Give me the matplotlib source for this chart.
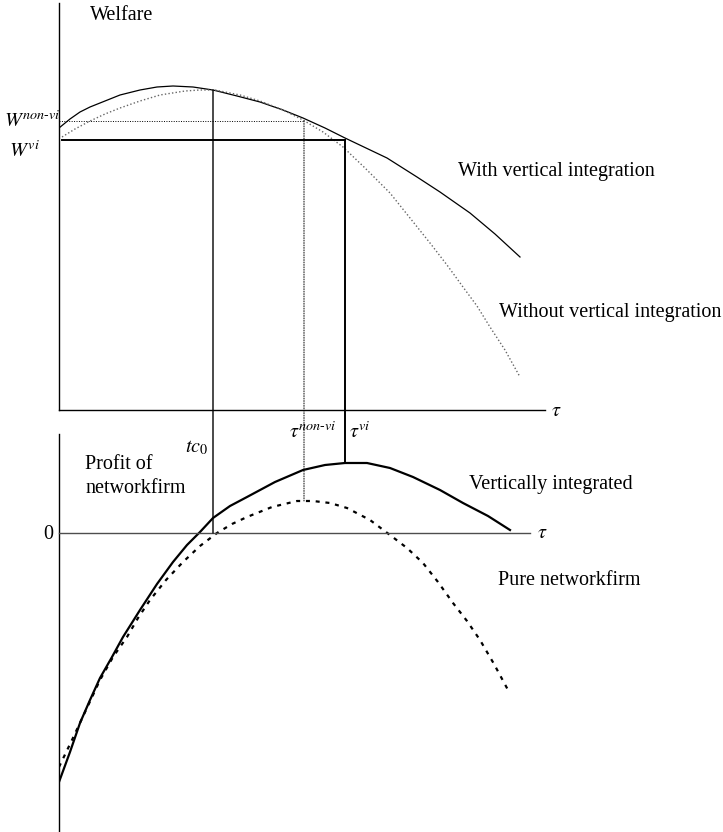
import numpy as np
import matplotlib
matplotlib.use("Agg")
import matplotlib.pyplot as plt
from matplotlib.patches import ConnectionPatch

plt.rcParams['font.family'] = ['Liberation Serif', 'DejaVu Serif']
plt.rcParams['mathtext.fontset'] = 'stix'

# ---------------- data (schematic) ----------------
# Welfare panel: tau vs welfare
tau_w_vi = [0, 11, 21, 31, 41, 61, 81, 98, 114, 134, 154, 178, 201, 224, 244,
            266, 286, 307, 328, 358, 381, 411, 436, 461]
welfare_vi = [282, 291, 298, 303, 307, 315, 320, 323, 324, 323, 320, 314, 308,
              300, 292, 282, 272, 262, 252, 233, 218, 197, 176, 153]
tau_w_nonvi = [3, 16, 31, 46, 61, 81, 101, 126, 141, 156, 181, 201, 224, 244,
               264, 284, 306, 331, 351, 371, 388, 404, 418, 431, 446, 461]
welfare_nonvi = [273, 281, 289, 296, 302, 309, 315, 319, 320, 320, 315, 309,
                 300, 290, 278, 263, 242, 217, 192, 167, 145, 123, 104, 83, 60, 33]

# Profit panel: tau vs profit of network firm
tau_p_vi = [0, 11, 21, 31, 41, 53, 64, 81, 98, 114, 128, 141, 154, 171, 188,
            216, 244, 266, 286, 308, 331, 354, 381, 404, 429, 451]
profit_vi = [-249, -219, -190, -167, -145, -124, -104, -77, -51, -29, -12, 1,
             15, 27, 36, 51, 63, 68, 70, 70, 65, 56, 43, 30, 17, 3]
tau_p_pure = [0, 13, 27, 41, 54, 68, 79, 91, 107, 124, 141, 158, 173, 188, 213,
              238, 254, 271, 288, 311, 331, 348, 364, 379, 394, 408, 421, 435, 449]
profit_pure = [-234, -207, -177, -147, -124, -104, -85, -67, -47, -29, -13, 0,
               9, 16, 26, 32, 32, 30, 25, 13, -2, -15, -30, -49, -70, -88,
               -107, -131, -157]

# key levels
tc0 = 154
tau_vi = 286
tau_nonvi = 245
W_vi = 270
W_nonvi = 289

W, H = 723, 832
fig = plt.figure(figsize=(W / 100, H / 100), dpi=100)

# ---------------- top panel ----------------
ax1 = fig.add_axes([59 / W, (H - 410) / H, 664 / W, 410 / H])
ax1.set_xlim(0, 664)
ax1.set_ylim(0, 410)
for s in ['top', 'right']:
    ax1.spines[s].set_visible(False)
ax1.spines['left'].set_bounds(0, 407)
ax1.spines['bottom'].set_bounds(0, 486)
for s in ['left', 'bottom']:
    ax1.spines[s].set_linewidth(1.0)
ax1.set_xticks([])
ax1.set_yticks([])
ax1.patch.set_alpha(0)

ax1.plot(tau_w_vi, welfare_vi, color='black', lw=0.9, solid_joinstyle='round')
ax1.plot(tau_w_nonvi, welfare_nonvi, color='0.4', lw=1.0, linestyle=(0, (1, 1.6)))
ax1.plot([3, tau_vi], [W_vi, W_vi], color='black', lw=1.4)
ax1.plot([0, tau_nonvi], [W_nonvi, W_nonvi], color='black', lw=0.7, linestyle=(0, (1, 1.5)))

# ---------------- bottom panel ----------------
ax2 = fig.add_axes([59 / W, 0, 664 / W, 399 / H])
ax2.set_xlim(0, 664)
ax2.set_ylim(-299, 100)
for s in ['top', 'right']:
    ax2.spines[s].set_visible(False)
ax2.spines['left'].set_bounds(-299, 99)
ax2.spines['bottom'].set_position(('data', 0))
ax2.spines['bottom'].set_bounds(0, 471)
ax2.spines['bottom'].set_color('0.3')
for s in ['left', 'bottom']:
    ax2.spines[s].set_linewidth(1.0)
ax2.set_xticks([])
ax2.set_yticks([])
ax2.patch.set_alpha(0)

ax2.plot(tau_p_vi, profit_vi, color='black', lw=1.6, solid_joinstyle='round')
ax2.plot(tau_p_pure, profit_pure, color='black', lw=1.6, linestyle=(0, (1.8, 2.6)))

# ---------------- vertical connectors ----------------
w_tc0 = np.interp(tc0, tau_w_vi, welfare_vi)
p_vi_peak = np.interp(tau_vi, tau_p_vi, profit_vi)
p_pure_peak = np.interp(tau_nonvi, tau_p_pure, profit_pure)

for (x, ytop, ybot, lw, ls) in [
    (tc0, w_tc0, 0, 1.0, '-'),
    (tau_vi, W_vi, p_vi_peak, 1.4, '-'),
    (tau_nonvi, W_nonvi, p_pure_peak, 0.7, (0, (1, 1.5))),
]:
    cp = ConnectionPatch(xyA=(x, ytop), coordsA=ax1.transData,
                         xyB=(x, ybot), coordsB=ax2.transData,
                         color='black', lw=lw, linestyle=ls)
    fig.add_artist(cp)

# ---------------- text ----------------
fs = 14.5


def txt(px, py, s, **kw):
    kw.setdefault('fontsize', fs)
    kw.setdefault('va', 'baseline')
    kw.setdefault('ha', 'left')
    fig.text(px / W, 1 - py / H, s, **kw)


txt(90, 20, 'Welfare')
txt(4, 127, r'$W^{non\text{-}vi}$')
txt(9, 157, r'$W^{vi}$')
txt(458, 176, 'With vertical integration')
txt(499, 317, 'Without vertical integration')
txt(551, 416, r'$\tau$')
txt(289, 438, r'$\tau^{non\text{-}vi}$')
txt(349, 438, r'$\tau^{vi}$')
txt(185, 452, r'$tc_0$')
txt(85, 469, 'Profit of')
txt(85, 493, 'networkfirm')
txt(43, 539, '0')
txt(469, 489, 'Vertically integrated')
txt(537, 538, r'$\tau$')
txt(498, 585, 'Pure networkfirm')

fig.savefig('out.png', dpi=100)
